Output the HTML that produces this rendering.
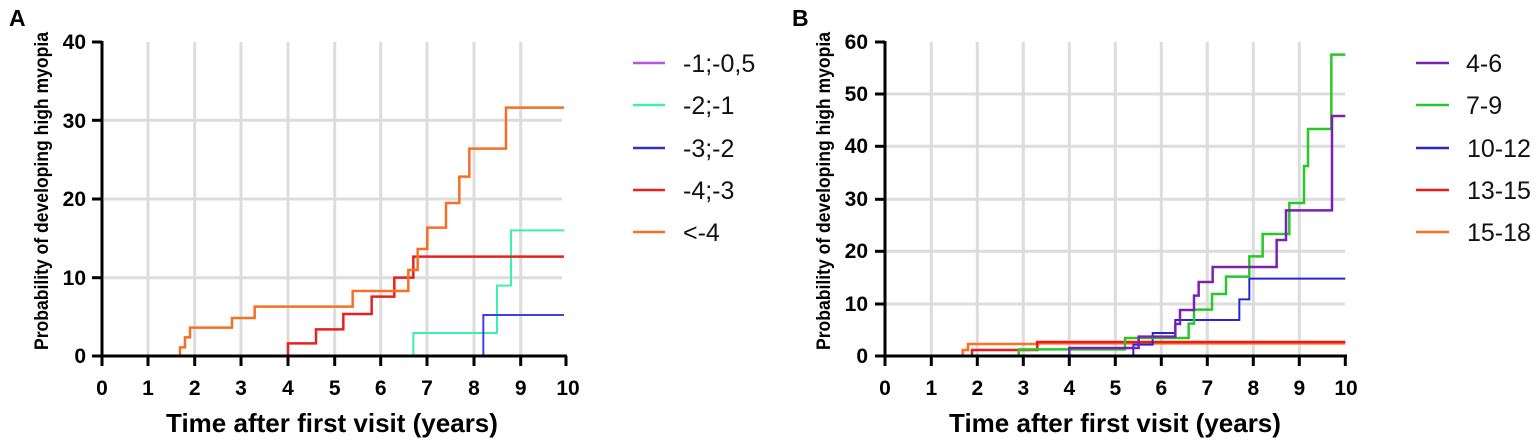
<!DOCTYPE html>
<html><head><meta charset="utf-8"><style>
html,body{margin:0;padding:0;background:#fff}
svg{display:block}
text{font-family:"Liberation Sans",Arial,sans-serif}
</style></head><body>
<svg width="1535" height="443" viewBox="0 0 1535 443" xmlns="http://www.w3.org/2000/svg">
<!-- PANEL A -->
<text x="9" y="26" font-size="23" font-weight="bold">A</text>
<g stroke="#dcdcdc" stroke-width="3">
<line x1="148" y1="42" x2="148" y2="356"/><line x1="194.7" y1="42" x2="194.7" y2="356"/><line x1="241" y1="42" x2="241" y2="356"/><line x1="288" y1="42" x2="288" y2="356"/><line x1="334.7" y1="42" x2="334.7" y2="356"/><line x1="380.7" y1="42" x2="380.7" y2="356"/><line x1="427" y1="42" x2="427" y2="356"/><line x1="474" y1="42" x2="474" y2="356"/><line x1="520.7" y1="42" x2="520.7" y2="356"/>
<line x1="104" y1="277.7" x2="562" y2="277.7"/><line x1="104" y1="199" x2="562" y2="199"/><line x1="104" y1="120.3" x2="562" y2="120.3"/>
</g>
<g transform="translate(90,30) scale(0.33333)" fill="none">
<path vector-effect="non-scaling-stroke" stroke="#3df0b0" stroke-width="2" d="M970 978V909H1221V767H1263V601H1422"/>
<path vector-effect="non-scaling-stroke" stroke="#4040e0" stroke-width="2" d="M1180 978V855H1422"/>
<path vector-effect="non-scaling-stroke" stroke="#e82020" stroke-width="2.5" d="M594 978V940H678V898H760V852H845V800H913V743H970V680H1422"/>
<path vector-effect="non-scaling-stroke" stroke="#f57025" stroke-width="2.5" d="M36 978H270V952H285V922H300V893H426V864H494V830H788V783H955V720H983V657H1012V593H1068V519H1108V440H1138V356H1248V233H1422"/>
<path vector-effect="non-scaling-stroke" stroke="#b855e0" stroke-width="3" d="M36 978H1312"/>
<path vector-effect="non-scaling-stroke" stroke="#402040" stroke-width="3" d="M1312 978H1428"/>
</g>
<g stroke="#000" stroke-width="3">
<line x1="102" y1="41" x2="102" y2="366"/>
<line x1="101" y1="356" x2="567" y2="356"/>
<line x1="92" y1="42" x2="102" y2="42"/><line x1="92" y1="120.3" x2="102" y2="120.3"/><line x1="92" y1="199" x2="102" y2="199"/><line x1="92" y1="277.7" x2="102" y2="277.7"/><line x1="92" y1="356" x2="102" y2="356"/>
<line x1="148" y1="356" x2="148" y2="366"/><line x1="194.7" y1="356" x2="194.7" y2="366"/><line x1="241" y1="356" x2="241" y2="366"/><line x1="288" y1="356" x2="288" y2="366"/><line x1="334.7" y1="356" x2="334.7" y2="366"/><line x1="380.7" y1="356" x2="380.7" y2="366"/><line x1="427" y1="356" x2="427" y2="366"/><line x1="474" y1="356" x2="474" y2="366"/><line x1="520.7" y1="356" x2="520.7" y2="366"/><line x1="566" y1="356" x2="566" y2="366"/>
</g>
<g font-size="21" font-weight="bold" text-anchor="end">
<text x="86" y="49">40</text><text x="86" y="128">30</text><text x="86" y="206">20</text><text x="86" y="285">10</text><text x="86" y="363">0</text>
</g>
<g font-size="21" font-weight="bold" text-anchor="middle">
<text x="102" y="395">0</text><text x="148" y="395">1</text><text x="194.7" y="395">2</text><text x="241" y="395">3</text><text x="288" y="395">4</text><text x="334.7" y="395">5</text><text x="380.7" y="395">6</text><text x="427" y="395">7</text><text x="474" y="395">8</text><text x="520.7" y="395">9</text><text x="568" y="395">10</text>
</g>
<text x="332" y="432" font-size="26" font-weight="bold" text-anchor="middle">Time after first visit (years)</text>
<text transform="translate(48,191) rotate(-90)" font-size="19" font-weight="bold" text-anchor="middle" textLength="318" lengthAdjust="spacingAndGlyphs">Probability of developing high myopia</text>
<g stroke-width="2.5">
<line x1="633" y1="63" x2="665" y2="63" stroke="#b855e0"/>
<line x1="633" y1="105" x2="665" y2="105" stroke="#3df0b0"/>
<line x1="633" y1="148" x2="665" y2="148" stroke="#3030d0"/>
<line x1="633" y1="190" x2="665" y2="190" stroke="#e82020"/>
<line x1="633" y1="232" x2="665" y2="232" stroke="#f57025"/>
</g>
<g font-size="25" fill="#111">
<text x="683" y="72">-1;-0,5</text><text x="683" y="114">-2;-1</text><text x="683" y="157">-3;-2</text><text x="683" y="199">-4;-3</text><text x="683" y="241">&lt;-4</text>
</g>

<!-- PANEL B -->
<text x="792" y="26" font-size="23" font-weight="bold">B</text>
<g stroke="#dcdcdc" stroke-width="3">
<line x1="931.3" y1="42" x2="931.3" y2="356"/><line x1="977.3" y1="42" x2="977.3" y2="356"/><line x1="1023.3" y1="42" x2="1023.3" y2="356"/><line x1="1069.3" y1="42" x2="1069.3" y2="356"/><line x1="1115.3" y1="42" x2="1115.3" y2="356"/><line x1="1161.3" y1="42" x2="1161.3" y2="356"/><line x1="1207.3" y1="42" x2="1207.3" y2="356"/><line x1="1253.3" y1="42" x2="1253.3" y2="356"/><line x1="1299.3" y1="42" x2="1299.3" y2="356"/>
<line x1="886" y1="304" x2="1345" y2="304"/><line x1="886" y1="251.3" x2="1345" y2="251.3"/><line x1="886" y1="199.3" x2="1345" y2="199.3"/><line x1="886" y1="146.3" x2="1345" y2="146.3"/><line x1="886" y1="94" x2="1345" y2="94"/>
</g>
<g transform="translate(870,30) scale(0.33333)" fill="none">
<path vector-effect="non-scaling-stroke" stroke="#ff7020" stroke-width="2.5" d="M44 978H278V960H294V942H500V940H1426"/>
<path vector-effect="non-scaling-stroke" stroke="#f01818" stroke-width="2.5" d="M44 978H306V960H502V936H1426"/>
<path vector-effect="non-scaling-stroke" stroke="#2626d8" stroke-width="2" d="M44 978H790V944H848V909H916V870H1108V808H1138V746H1426"/>
<path vector-effect="non-scaling-stroke" stroke="#28c828" stroke-width="2.5" d="M44 978H446V958H765V924H956V881H972V839H1026V792H1068V740H1138V679H1178V612H1258V519H1302V408H1314V297H1384V74H1426"/>
<path vector-effect="non-scaling-stroke" stroke="#7a22b0" stroke-width="2.5" d="M44 978H598V954H806V920H916V882H930V840H972V797H986V756H1028V711H1220V630H1248V541H1386V258H1426"/>
</g>
<g stroke="#000" stroke-width="3">
<line x1="885" y1="41" x2="885" y2="366"/>
<line x1="884" y1="356" x2="1347" y2="356"/>
<line x1="875" y1="42" x2="885" y2="42"/><line x1="875" y1="94" x2="885" y2="94"/><line x1="875" y1="146.3" x2="885" y2="146.3"/><line x1="875" y1="199.3" x2="885" y2="199.3"/><line x1="875" y1="251.3" x2="885" y2="251.3"/><line x1="875" y1="304" x2="885" y2="304"/><line x1="875" y1="356" x2="885" y2="356"/>
<line x1="931.3" y1="356" x2="931.3" y2="366"/><line x1="977.3" y1="356" x2="977.3" y2="366"/><line x1="1023.3" y1="356" x2="1023.3" y2="366"/><line x1="1069.3" y1="356" x2="1069.3" y2="366"/><line x1="1115.3" y1="356" x2="1115.3" y2="366"/><line x1="1161.3" y1="356" x2="1161.3" y2="366"/><line x1="1207.3" y1="356" x2="1207.3" y2="366"/><line x1="1253.3" y1="356" x2="1253.3" y2="366"/><line x1="1299.3" y1="356" x2="1299.3" y2="366"/><line x1="1345.3" y1="356" x2="1345.3" y2="366"/>
</g>
<g font-size="21" font-weight="bold" text-anchor="end">
<text x="868" y="49">60</text><text x="868" y="101">50</text><text x="868" y="153">40</text><text x="868" y="206">30</text><text x="868" y="258">20</text><text x="868" y="311">10</text><text x="868" y="363">0</text>
</g>
<g font-size="21" font-weight="bold" text-anchor="middle">
<text x="885" y="395">0</text><text x="931.3" y="395">1</text><text x="977.3" y="395">2</text><text x="1023.3" y="395">3</text><text x="1069.3" y="395">4</text><text x="1115.3" y="395">5</text><text x="1161.3" y="395">6</text><text x="1207.3" y="395">7</text><text x="1253.3" y="395">8</text><text x="1299.3" y="395">9</text><text x="1346" y="395">10</text>
</g>
<text x="1115" y="432" font-size="26" font-weight="bold" text-anchor="middle">Time after first visit (years)</text>
<text transform="translate(830,191) rotate(-90)" font-size="19" font-weight="bold" text-anchor="middle" textLength="318" lengthAdjust="spacingAndGlyphs">Probability of developing high myopia</text>
<g stroke-width="2.5">
<line x1="1416" y1="63" x2="1449" y2="63" stroke="#7a22b0"/>
<line x1="1416" y1="105" x2="1449" y2="105" stroke="#28c828"/>
<line x1="1416" y1="148" x2="1449" y2="148" stroke="#2626d8"/>
<line x1="1416" y1="190" x2="1449" y2="190" stroke="#f01818"/>
<line x1="1416" y1="232" x2="1449" y2="232" stroke="#ff7020"/>
</g>
<g font-size="25" fill="#111">
<text x="1466" y="72">4-6</text><text x="1466" y="114">7-9</text><text x="1467" y="157">10-12</text><text x="1467" y="199">13-15</text><text x="1467" y="241">15-18</text>
</g>
</svg>
</body></html>
